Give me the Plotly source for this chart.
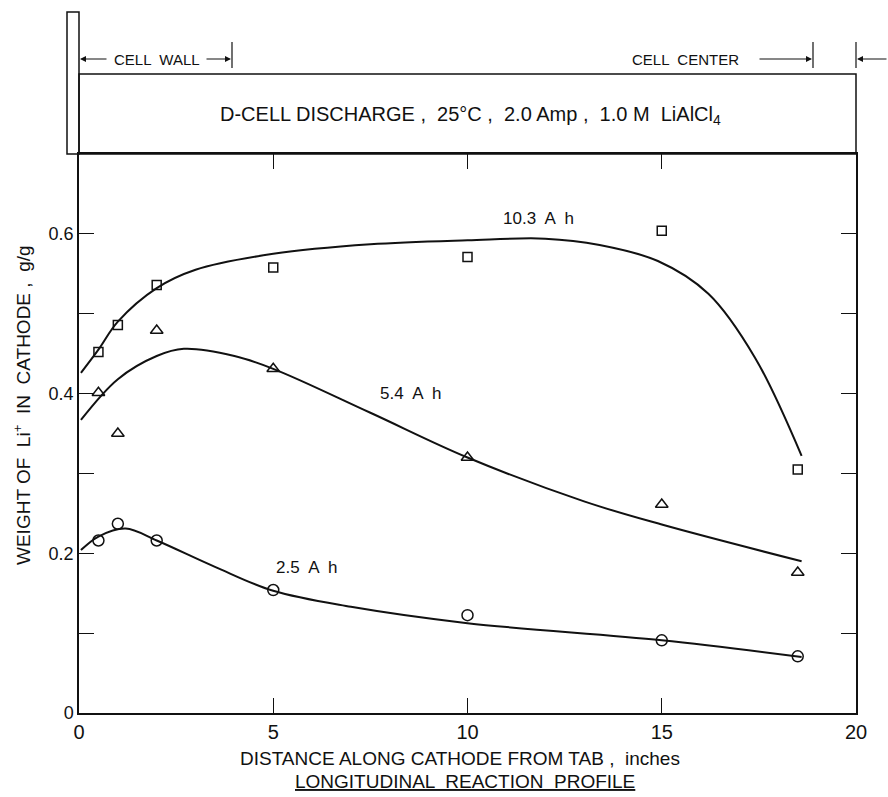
import plotly.graph_objects as go

# ---------------- data ----------------
pts_x = [0.5, 1, 2, 5, 10, 15, 18.5]
sq_y = [0.452, 0.486, 0.536, 0.558, 0.571, 0.604, 0.305]      # 10.3 A h
tri_y = [0.401, 0.350, 0.479, 0.431, 0.320, 0.261, 0.176]     # 5.4 A h
circ_y = [0.216, 0.237, 0.216, 0.154, 0.1225, 0.091, 0.071]   # 2.5 A h

c10_x = [0.05, 0.5, 1, 2, 3, 5, 7.5, 10, 12, 13.4, 14.9, 16.2, 17.4, 18.6]
c10_y = [0.426, 0.455, 0.490, 0.532, 0.555, 0.575, 0.587, 0.592, 0.594, 0.586, 0.566, 0.525, 0.445, 0.322]

c5_x = [0.05, 1, 2, 2.7, 4, 5, 7.5, 10, 13, 15, 18.6]
c5_y = [0.367, 0.418, 0.447, 0.456, 0.447, 0.431, 0.376, 0.320, 0.265, 0.236, 0.190]

c2_x = [0.05, 0.5, 1.2, 2, 3.5, 5, 7, 10, 15, 18.6]
c2_y = [0.204, 0.221, 0.231, 0.216, 0.183, 0.153, 0.133, 0.1125, 0.091, 0.070]

x_ticks = [0, 5, 10, 15, 20]
x_ticklabels = ["0", "5", "10", "15", "20"]
y_ticks = [0, 0.1, 0.2, 0.3, 0.4, 0.5, 0.6]
y_ticklabels = ["0", "", "0.2", "", "0.4", "", "0.6"]

curve_labels = ["10.3  A  h", "5.4  A  h", "2.5  A  h"]
curve_label_x = [11.83, 8.53, 5.85]
curve_label_y = [0.619, 0.400, 0.1825]

# ---------------- layout geometry ----------------
W, H = 888, 797
L, R, T, B = 79, 32, 154, 84
PW, PH = W - L - R, H - T - B


def px(xp):
    return (xp - L) / PW


def py(yp):
    return (H - B - yp) / PH


INK = "#111111"
FONT = "Liberation Sans, Arial, Helvetica, sans-serif"
NARROW = "Liberation Sans Narrow, Arial Narrow, Liberation Sans, sans-serif"

fig = go.Figure()

line_style = dict(color=INK, width=2, shape="spline", smoothing=1.0)
fig.add_trace(go.Scatter(x=c10_x, y=c10_y, mode="lines", line=line_style, hoverinfo="skip"))
fig.add_trace(go.Scatter(x=c5_x, y=c5_y, mode="lines", line=line_style, hoverinfo="skip"))
fig.add_trace(go.Scatter(x=c2_x, y=c2_y, mode="lines", line=line_style, hoverinfo="skip"))

fig.add_trace(go.Scatter(x=pts_x, y=sq_y, mode="markers",
                         marker=dict(symbol="square-open", size=9, color=INK, line=dict(width=1.5))))
fig.add_trace(go.Scatter(x=pts_x, y=tri_y, mode="markers",
                         marker=dict(symbol="triangle-up-open", size=11, color=INK, line=dict(width=1.5))))
fig.add_trace(go.Scatter(x=pts_x, y=circ_y, mode="markers",
                         marker=dict(symbol="circle-open", size=11, color=INK, line=dict(width=1.5))))

annotations = []
for t, xx, yy in zip(curve_labels, curve_label_x, curve_label_y):
    annotations.append(dict(x=xx, y=yy, xref="x", yref="y", text=t, showarrow=False,
                            xanchor="center", yanchor="middle",
                            font=dict(family=FONT, size=17, color=INK)))


def ptext(xp, yp, text, size, family=FONT, angle=0):
    return dict(x=px(xp), y=py(yp), xref="paper", yref="paper", text=text, showarrow=False,
                xanchor="center", yanchor="middle", textangle=angle,
                font=dict(family=family, size=size, color=INK))


# header text
annotations.append(ptext(470, 115, "D-CELL DISCHARGE ,  25°C ,  2.0 Amp ,  1.0 M  LiAlCl<sub>4</sub>", 20))
annotations.append(ptext(157, 59, "CELL  WALL", 15))
annotations.append(ptext(685, 59, "CELL  CENTER", 15))

# arrows in header
arrow_common = dict(xref="paper", yref="paper", text="", showarrow=True, arrowhead=2,
                    arrowsize=1, arrowwidth=1.2, arrowcolor=INK, ay=0)
annotations.append(dict(x=px(80), y=py(59), ax=28, **arrow_common))
annotations.append(dict(x=px(231), y=py(59), ax=-26, **arrow_common))
annotations.append(dict(x=px(812), y=py(59), ax=-54, **arrow_common))
annotations.append(dict(x=px(857), y=py(59), ax=31, **arrow_common))

# axis titles
annotations.append(ptext(22, 405, "WEIGHT OF  Li<sup>+</sup>  IN  CATHODE ,  g/g", 19, angle=-90))
annotations.append(ptext(460, 758, "DISTANCE ALONG CATHODE FROM TAB ,  inches", 19, family=NARROW))
annotations.append(ptext(465, 781, "<u>LONGITUDINAL  REACTION  PROFILE</u>", 19, family=NARROW))

shapes = []
# left vertical bar (cell wall)
shapes.append(dict(type="rect", xref="paper", yref="paper", x0=px(67), x1=px(79), y0=py(154), y1=py(12),
                   line=dict(color=INK, width=1.5)))
# header box
shapes.append(dict(type="rect", xref="paper", yref="paper", x0=px(79), x1=px(856), y0=py(154), y1=py(74),
                   line=dict(color=INK, width=1.5)))
# small vertical marks
for xp in [232, 813, 856]:
    shapes.append(dict(type="line", xref="paper", yref="paper", x0=px(xp), x1=px(xp), y0=py(68), y1=py(42),
                       line=dict(color=INK, width=1.2)))

fig.update_layout(
    width=W, height=H,
    margin=dict(l=L, r=R, t=T, b=B, pad=0),
    paper_bgcolor="white", plot_bgcolor="white",
    showlegend=False,
    annotations=annotations,
    shapes=shapes,
    xaxis=dict(range=[0, 20], tickvals=x_ticks, ticktext=x_ticklabels, ticks="inside", ticklen=15,
               tickwidth=1.2, tickcolor=INK, showline=True, linecolor=INK, linewidth=1.5, mirror="ticks",
               showgrid=False, zeroline=False, tickfont=dict(family=NARROW, size=20, color=INK)),
    yaxis=dict(range=[0, 0.7], tickvals=y_ticks, ticktext=y_ticklabels, ticks="inside", ticklen=15,
               tickwidth=1.2, tickcolor=INK, showline=True, linecolor=INK, linewidth=1.5, mirror="ticks",
               showgrid=False, zeroline=False, tickfont=dict(family=FONT, size=18, color=INK)),
)

fig.write_html("out.html")
